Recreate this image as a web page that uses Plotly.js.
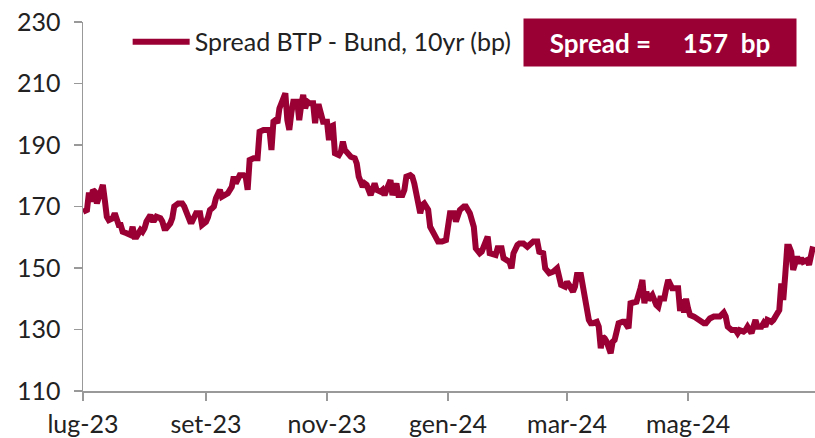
<!DOCTYPE html>
<html>
<head>
<meta charset="utf-8">
<script src="https://cdn.plot.ly/plotly-3.0.1.min.js"></script>
<style>
  body { margin: 0; background: #fff; }
  #spread-plot { width: 815px; height: 438px; }
</style>
</head>
<body>
<div id="spread-plot"></div>
<script>
// daily BTP-Bund spread
var dates = [
  "2023-07-01","2023-07-03","2023-07-04","2023-07-05","2023-07-06","2023-07-07","2023-07-08","2023-07-09","2023-07-10","2023-07-11","2023-07-12","2023-07-13","2023-07-14","2023-07-16","2023-07-17","2023-07-18","2023-07-19","2023-07-20","2023-07-21","2023-07-23","2023-07-25","2023-07-26","2023-07-27","2023-07-28","2023-07-30","2023-07-31",
  "2023-08-01","2023-08-02","2023-08-04","2023-08-05","2023-08-06","2023-08-07","2023-08-09","2023-08-10","2023-08-11","2023-08-12","2023-08-14","2023-08-15","2023-08-16","2023-08-18","2023-08-20","2023-08-21","2023-08-23","2023-08-24","2023-08-25","2023-08-27","2023-08-29","2023-08-30","2023-08-31",
  "2023-09-01","2023-09-02","2023-09-03","2023-09-04","2023-09-05","2023-09-06","2023-09-08","2023-09-09","2023-09-11","2023-09-12","2023-09-14","2023-09-15","2023-09-16","2023-09-17","2023-09-18","2023-09-20","2023-09-21","2023-09-22","2023-09-23","2023-09-25","2023-09-27","2023-09-28","2023-09-30",
  "2023-10-02","2023-10-03","2023-10-04","2023-10-05","2023-10-06","2023-10-07","2023-10-08","2023-10-09","2023-10-10","2023-10-11","2023-10-12","2023-10-13","2023-10-14","2023-10-15","2023-10-17","2023-10-18","2023-10-19","2023-10-20","2023-10-21","2023-10-22","2023-10-23","2023-10-25","2023-10-26","2023-10-27","2023-10-28","2023-10-29","2023-10-30",
  "2023-11-01","2023-11-02","2023-11-03","2023-11-04","2023-11-05","2023-11-07","2023-11-08","2023-11-09","2023-11-10","2023-11-11","2023-11-12","2023-11-13","2023-11-15","2023-11-16","2023-11-17","2023-11-19","2023-11-20","2023-11-21","2023-11-23","2023-11-24","2023-11-25","2023-11-26","2023-11-28","2023-11-29","2023-11-30",
  "2023-12-01","2023-12-03","2023-12-04","2023-12-05","2023-12-06","2023-12-07","2023-12-09","2023-12-10","2023-12-11","2023-12-13","2023-12-14","2023-12-15","2023-12-16","2023-12-18","2023-12-19","2023-12-20","2023-12-22","2023-12-23","2023-12-25","2023-12-27","2023-12-29","2023-12-31",
  "2024-01-02","2024-01-04","2024-01-05","2024-01-07","2024-01-09","2024-01-10","2024-01-12","2024-01-14","2024-01-15","2024-01-17","2024-01-18","2024-01-20","2024-01-21","2024-01-22","2024-01-24","2024-01-25","2024-01-26","2024-01-28","2024-01-29","2024-01-31",
  "2024-02-01","2024-02-02","2024-02-03","2024-02-05","2024-02-06","2024-02-08","2024-02-10","2024-02-11","2024-02-13","2024-02-15","2024-02-16","2024-02-18","2024-02-19","2024-02-21","2024-02-23","2024-02-25","2024-02-26","2024-02-27","2024-02-29",
  "2024-03-01","2024-03-02","2024-03-04","2024-03-05","2024-03-06","2024-03-08","2024-03-09","2024-03-10","2024-03-11","2024-03-12","2024-03-13","2024-03-14","2024-03-16","2024-03-17","2024-03-18","2024-03-19","2024-03-20","2024-03-21","2024-03-23","2024-03-24","2024-03-25","2024-03-26","2024-03-27","2024-03-29","2024-03-30",
  "2024-04-01","2024-04-02","2024-04-03","2024-04-05","2024-04-07","2024-04-08","2024-04-09","2024-04-10","2024-04-11","2024-04-13","2024-04-15","2024-04-16","2024-04-17","2024-04-19","2024-04-20","2024-04-21","2024-04-23","2024-04-24","2024-04-26","2024-04-27","2024-04-28","2024-04-29","2024-04-30",
  "2024-05-01","2024-05-02","2024-05-04","2024-05-06","2024-05-07","2024-05-09","2024-05-10","2024-05-12","2024-05-14","2024-05-16","2024-05-17","2024-05-19","2024-05-20","2024-05-21","2024-05-23","2024-05-25","2024-05-26","2024-05-27","2024-05-29","2024-05-30","2024-05-31",
  "2024-06-02","2024-06-03","2024-06-04","2024-06-05","2024-06-07","2024-06-08","2024-06-09","2024-06-10","2024-06-12","2024-06-13","2024-06-14","2024-06-16","2024-06-17","2024-06-18","2024-06-19","2024-06-20","2024-06-21","2024-06-22","2024-06-23","2024-06-25","2024-06-26","2024-06-27","2024-06-28","2024-06-30",
  "2024-07-01","2024-07-02","2024-07-03"
];

var spread = [
  168.3,168.9,174.5,171.6,175.4,174.8,171.0,173.2,176.4,177.0,172.1,166.7,165.6,166.2,167.8,165.6,164.0,164.0,161.8,161.3,160.7,163.4,160.2,160.2,162.4,161.8,
  162.9,165.1,167.2,165.6,165.6,166.7,166.2,165.1,162.9,162.9,164.5,166.2,170.0,171.0,171.0,170.0,166.7,165.1,165.1,167.8,167.8,164.0,164.5,
  165.0,166.5,168.9,169.4,170.0,172.7,175.4,173.2,173.7,174.3,176.4,179.7,177.5,178.6,180.2,180.2,179.7,175.4,185.1,185.7,185.7,194.3,194.9,
  194.9,194.9,188.4,197.6,198.1,197.1,201.9,203.6,204.1,206.8,198.1,194.9,200.3,204.1,204.1,198.1,203.0,206.3,201.9,204.1,203.6,203.6,197.1,202.5,202.5,199.5,197.6,
  197.6,191.6,196.0,196.3,187.3,186.7,187.8,191.1,188.4,187.8,186.7,186.2,185.7,184.0,179.7,176.4,177.5,177.0,173.7,175.9,177.5,175.4,174.8,175.4,173.7,
  175.4,178.6,173.7,175.4,177.5,173.7,173.7,175.4,179.7,180.2,179.7,177.5,173.2,167.8,170.5,171.0,168.9,163.4,161.0,158.6,158.6,159.1,
  167.8,167.8,165.1,168.9,170.0,170.0,167.8,163.4,156.4,154.8,155.3,158.0,160.2,154.8,154.2,154.2,156.4,156.4,153.2,152.6,
  152.0,149.9,154.8,157.5,158.0,158.0,156.9,157.5,158.6,158.6,155.3,154.8,149.9,148.3,148.8,149.9,147.7,144.5,143.9,
  145.5,144.5,142.3,143.9,147.7,147.7,143.9,140.7,138.5,133.1,132.0,132.0,132.5,130.9,123.9,127.7,127.1,126.0,122.3,126.0,126.6,129.8,132.0,132.5,132.5,
  130.4,138.5,138.7,139.0,143.4,146.1,138.5,142.3,139.6,141.2,138.0,137.4,140.1,140.1,143.4,146.1,143.4,143.4,143.4,136.0,139.8,135.5,140.0,
  136.9,134.7,134.2,133.1,133.1,132.0,132.0,133.6,134.2,134.2,134.2,135.5,134.2,130.9,129.8,129.8,128.8,129.8,129.3,129.8,130.9,
  128.8,130.4,133.1,130.9,130.9,132.0,130.9,133.1,132.5,133.1,134.2,136.3,145.0,139.6,147.7,156.9,156.9,155.3,149.4,153.7,151.5,153.2,152.0,152.6,
  151.0,154.8,157.0
];

var tickDates = ["2023-07-01","2023-09-01","2023-11-01","2024-01-01","2024-03-01","2024-05-01"];
var tickLabels = ["lug-23","set-23","nov-23","gen-24","mar-24","mag-24"];
var lastSpread = 157;

var lineColor = "#9b0034";

var trace = {
    x: dates,
    y: spread,
    type: "scatter",
    mode: "lines",
    name: "Spread BTP - Bund, 10yr (bp)",
    line: {color: lineColor, width: 6}
};

var layout = {
    width: 815,
    height: 438,
    margin: {l: 83, r: 0, t: 22, b: 47},
    paper_bgcolor: "#ffffff",
    plot_bgcolor: "#ffffff",
    font: {family: "Lato, sans-serif", size: 25, color: "#222222"},
    showlegend: true,
    legend: {
        x: 0.061, y: 0.946, xanchor: "left", yanchor: "middle",
        orientation: "h",
        bgcolor: "rgba(0,0,0,0)",
        font: {size: 25, color: "#222222"},
        itemwidth: 57
    },
    xaxis: {
        type: "date",
        range: ["2023-07-01", "2024-07-04"],
        tickvals: tickDates,
        ticktext: tickLabels,
        ticks: "outside",
        ticklen: 8,
        tickcolor: "#999999",
        tickwidth: 1.5,
        ticklabelstandoff: 2,
        showline: true,
        linecolor: "#999999",
        linewidth: 1.5,
        showgrid: false,
        zeroline: false,
        tickfont: {size: 25}
    },
    yaxis: {
        range: [110, 230],
        dtick: 20,
        tick0: 110,
        ticks: "outside",
        ticklen: 8,
        tickcolor: "#999999",
        tickwidth: 1.5,
        ticklabelstandoff: 8,
        showline: true,
        linecolor: "#999999",
        linewidth: 1.5,
        showgrid: false,
        zeroline: false,
        tickfont: {size: 25}
    },
    annotations: [{
        xref: "paper", yref: "paper",
        x: 0.788, y: 0.944,
        xanchor: "center", yanchor: "middle",
        text: "<b>Spread =\u00a0\u00a0\u00a0\u00a0\u00a0" + lastSpread + "\u00a0\u00a0bp</b>",
        showarrow: false,
        bgcolor: lineColor,
        width: 272,
        height: 47,
        borderpad: 0,
        font: {color: "#ffffff", size: 26}
    }]
};

Plotly.newPlot("spread-plot", [trace], layout, {displayModeBar: false, staticPlot: true});
</script>
</body>
</html>
